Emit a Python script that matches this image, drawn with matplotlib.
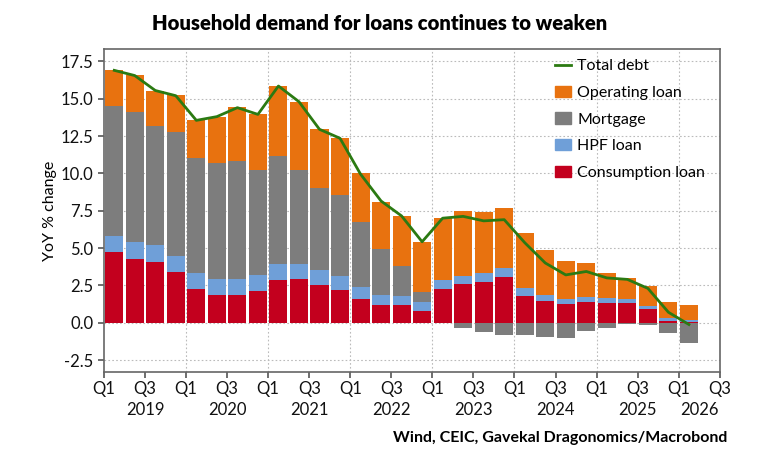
import numpy as np
import matplotlib
matplotlib.use('Agg')
import matplotlib.pyplot as plt
import matplotlib.transforms as transforms

# quarterly data, Q1 2019 .. Q1 2026 (YoY % change contributions)
quarters = ['2019Q1','2019Q2','2019Q3','2019Q4','2020Q1','2020Q2','2020Q3','2020Q4',
	'2021Q1','2021Q2','2021Q3','2021Q4','2022Q1','2022Q2','2022Q3','2022Q4',
	'2023Q1','2023Q2','2023Q3','2023Q4','2024Q1','2024Q2','2024Q3','2024Q4',
	'2025Q1','2025Q2','2025Q3','2025Q4','2026Q1']
consumption = [4.75, 4.26, 4.06, 3.37, 2.25, 1.85, 1.85, 2.12, 2.88, 2.95, 2.50, 2.21, 1.56, 1.18, 1.16, 0.80,
	2.25, 2.61, 2.72, 3.07, 1.81, 1.46, 1.28, 1.39, 1.32, 1.32, 0.94, 0.12, 0.05]
hpf = [1.08, 1.12, 1.14, 1.12, 1.08, 1.07, 1.07, 1.05, 1.05, 0.98, 1.03, 0.92, 0.85, 0.67, 0.63, 0.56,
	0.58, 0.54, 0.58, 0.59, 0.49, 0.40, 0.33, 0.31, 0.31, 0.29, 0.20, 0.19, 0.10]
mortgage = [8.70, 8.72, 7.97, 8.30, 7.72, 7.79, 7.91, 7.03, 7.23, 6.29, 5.47, 5.44, 4.31, 3.11, 2.00, 0.67,
	0.00, -0.38, -0.63, -0.80, -0.85, -0.94, -1.00, -0.56, -0.38, -0.07, -0.13, -0.72, -1.38]
operating = [2.39, 2.46, 2.37, 2.46, 2.50, 3.08, 3.59, 3.77, 4.71, 4.53, 3.97, 3.82, 3.28, 3.14, 3.38, 3.39,
	4.16, 4.35, 4.11, 4.01, 3.70, 3.01, 2.52, 2.28, 1.70, 1.41, 1.32, 1.07, 1.05]
total = [16.90, 16.55, 15.55, 15.20, 13.55, 13.80, 14.40, 13.95, 15.85, 14.80, 12.95, 12.35, 9.95, 8.15, 7.15, 5.42,
	7.00, 7.12, 6.82, 6.90, 5.36, 4.00, 3.20, 3.43, 3.00, 2.90, 2.30, 0.70, -0.12]
years = ['2019','2020','2021','2022','2023','2024','2025','2026']
yticks = [-2.5, 0.0, 2.5, 5.0, 7.5, 10.0, 12.5, 15.0, 17.5]

RED = '#c3001e'
BLUE = '#6f9fd8'
GRAY = '#7d7d7d'
ORANGE = '#e8720f'
GREEN = '#2b7a12'

plt.rcParams['font.family'] = ['Lato', 'DejaVu Sans']

def Main():
	fig = plt.figure(figsize=(7.6, 4.68), dpi=100)
	ax = fig.add_axes([0.1368, 0.2058, 0.8102, 0.6889])

	x = np.arange(len(quarters)) + 0.5
	c = np.array(consumption)
	h = np.array(hpf)
	m = np.array(mortgage)
	o = np.array(operating)
	w = 0.88

	m_pos = np.where(m > 0, m, 0)
	m_bottom = np.where(m > 0, c + h, 0)
	ax.bar(x, c, width=w, color=RED, zorder=2)
	ax.bar(x, h, width=w, bottom=c, color=BLUE, zorder=2)
	ax.bar(x, m, width=w, bottom=m_bottom, color=GRAY, zorder=2)
	ax.bar(x, o, width=w, bottom=c + h + m_pos, color=ORANGE, zorder=2)
	ax.plot(x, total, color=GREEN, lw=2.0, zorder=3)

	ax.set_xlim(0, 30)
	ax.set_ylim(-3.28, 18.31)
	ax.set_yticks(yticks)
	ax.set_yticklabels(['%.1f' % v for v in yticks], fontsize=12)
	ax.set_xticks(np.arange(0, 31, 2))
	ax.set_xticklabels(['Q1' if i % 4 == 0 else 'Q3' for i in range(0, 31, 2)], fontsize=12)
	ax.tick_params(axis='both', color='#555555', width=1.2, length=4, labelcolor='#111111')
	ax.tick_params(axis='x', pad=3)

	# grid: horizontal at each tick, vertical at start of each year
	for v in yticks:
		ax.axhline(v, color='#bbbbbb', lw=0.8, ls=(0, (1.5, 2)), zorder=0)
	for i in range(4, 30, 4):
		ax.axvline(i, color='#bbbbbb', lw=0.8, ls=(0, (1.5, 2)), zorder=0)

	for s in ax.spines.values():
		s.set_color('#666666')
		s.set_linewidth(1.2)

	trans = transforms.blended_transform_factory(ax.transData, ax.transAxes)
	for i, yr in enumerate(years):
		xm = 4 * i + 2 if i < len(years) - 1 else 29
		ax.text(xm, -0.118, yr, transform=trans, ha='center', va='center', fontsize=12, color='#111111')

	ax.set_ylabel('YoY % change', fontsize=11.5, labelpad=3)

	handles = [
		plt.Line2D([], [], color=GREEN, lw=2.0),
		plt.Rectangle((0, 0), 1, 1, color=ORANGE),
		plt.Rectangle((0, 0), 1, 1, color=GRAY),
		plt.Rectangle((0, 0), 1, 1, color=BLUE),
		plt.Rectangle((0, 0), 1, 1, color=RED),
	]
	labels = ['Total debt', 'Operating loan', 'Mortgage', 'HPF loan', 'Consumption loan']
	ax.legend(handles, labels, loc='upper right', bbox_to_anchor=(1.0, 1.014), frameon=False,
		fontsize=11.5, handlelength=1.0, handleheight=0.7, handletextpad=0.4, labelspacing=0.78)

	fig.text(0.5, 1 - 23 / 468, 'Household demand for loans continues to weaken',
		ha='center', va='center', fontsize=14.6, fontweight='heavy')
	fig.text(727 / 760, 1 - 438 / 468, 'Wind, CEIC, Gavekal Dragonomics/Macrobond',
		ha='right', va='center', fontsize=11.5, fontweight='bold')

	fig.savefig('out.png', dpi=100)
	plt.close(fig)

if __name__ == '__main__':
	Main()
